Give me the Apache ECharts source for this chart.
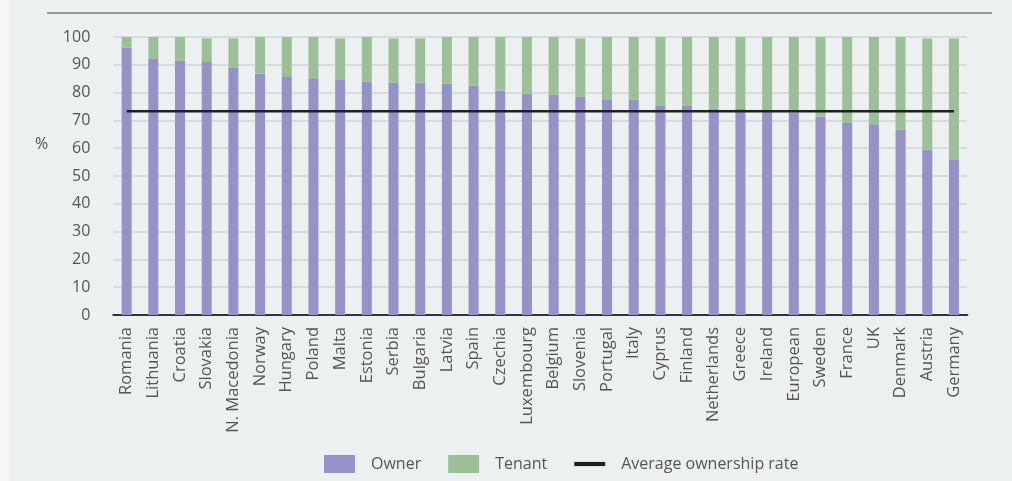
<!DOCTYPE html>
<html>
<head>
<meta charset="utf-8">
<script src="https://cdn.jsdelivr.net/npm/echarts@6/dist/echarts.min.js"></script>
<style>
html,body{margin:0;padding:0;background:#f6f6f6;}
#chart{width:1012px;height:481px;}
</style>
</head>
<body>
<div id="chart"></div>
<script>
const categories = ["Romania","Lithuania","Croatia","Slovakia","N. Macedonia","Norway","Hungary","Poland","Malta","Estonia","Serbia","Bulgaria","Latvia","Spain","Czechia","Luxembourg","Belgium","Slovenia","Portugal","Italy","Cyprus","Finland","Netherlands","Greece","Ireland","European","Sweden","France","UK","Denmark","Austria","Germany"];
const ownerValues = [96.2,92.1,91.4,91.0,89.0,86.8,85.6,84.9,84.5,83.9,83.5,83.6,83.2,82.5,80.7,79.6,79.2,78.4,77.6,77.5,75.2,75.2,74.2,74.1,73.7,72.8,71.3,69.1,68.6,66.7,59.4,56.0];
const totalValues = [100,100,100,99.5,99.5,100,100,100,99.5,100,99.5,99.5,100,100,100,100,100,99.5,100,100,100,100,100,100,100,100,100,100,100,100,99.5,99.5];
const averageRate = 73.3;
const yTicks = {min:0, max:100, interval:10};

const tenantValues = ownerValues.map((v,i)=> +(totalValues[i]-v).toFixed(1));
const averageValues = categories.map(()=>averageRate);

const chart = echarts.init(document.getElementById('chart'));
const font = '"Open Sans", sans-serif';
chart.setOption({
  animation:false,
  backgroundColor:'transparent',
  graphic:[
    {type:'rect', shape:{x:9,y:0,width:1003,height:481}, style:{fill:'#ecf0f1'}, z:-10},
    {type:'line', shape:{x1:47,y1:13,x2:992,y2:13}, style:{stroke:'#999999',lineWidth:2}},
    {type:'text', left:35, top:136, style:{text:'%', font:'16px "Open Sans", sans-serif', fill:'#555555'}}
  ],
  grid:{left:113.3, right:44.7, top:37, bottom:166, containLabel:false},
  legend:{
    left:319, top:450, itemWidth:31, itemHeight:18, itemGap:27,
    textStyle:{fontFamily:font, fontSize:16, color:'#555555', padding:[0,0,0,11]},
    data:[
      {name:'Owner', icon:'rect'},
      {name:'Tenant', icon:'rect'},
      {name:'Average ownership rate', icon:'path://M0,0H30V4H0Z'}
    ]
  },
  xAxis:{
    type:'category', data:categories,
    axisLine:{lineStyle:{color:'#333333', width:2}},
    axisTick:{show:false},
    axisLabel:{rotate:90, interval:0, margin:12, fontFamily:font, fontSize:16.5, color:'#555555'}
  },
  yAxis:{
    type:'value', min:yTicks.min, max:yTicks.max, interval:yTicks.interval,
    axisLine:{show:false}, axisTick:{show:false},
    axisLabel:{margin:23, fontFamily:font, fontSize:16, color:'#555555'},
    splitLine:{lineStyle:{color:'#d8dbdc', width:2}}
  },
  series:[
    {name:'Owner', type:'bar', stack:'t', data:ownerValues, barWidth:10, itemStyle:{color:'#9393c8'}},
    {name:'Tenant', type:'bar', stack:'t', data:tenantValues, barWidth:10, itemStyle:{color:'#9dbf98'}},
    {name:'Average ownership rate', type:'line', data:averageValues, symbol:'none', showSymbol:false,
     itemStyle:{color:'#231f20'}, lineStyle:{color:'#231f20', width:2.5}, z:5}
  ]
});
</script>
</body>
</html>
